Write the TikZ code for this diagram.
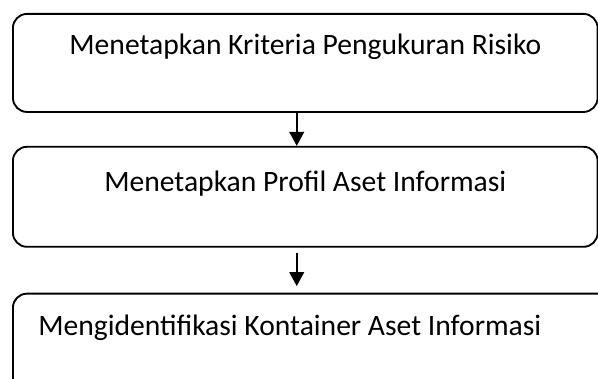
\documentclass[tikz,border=0pt]{standalone}
\usepackage{fontspec}
\setmainfont{Carlito}
\usetikzlibrary{arrows.meta,positioning}
\tikzset{
  box/.style={draw=black,rounded corners=10.5pt,line width=1.4pt,inner sep=0pt,
    minimum width=438.5pt,minimum height=74pt},
  lbl/.style={font=\fontsize{22.2}{26}\selectfont,inner sep=0pt},
  arrow/.style={-{Triangle[width=11pt,length=10.5pt]},draw=black,line width=1.4pt}
}
\begin{document}
\begin{tikzpicture}[x=0.75pt,y=-0.75pt]
      \useasboundingbox (0,0) rectangle (598,378);
      \clip (0,0) rectangle (598,378);
      \node[box,minimum height=73.5pt,anchor=north west] (b1) at (12,13) {};
      \node[box,minimum height=75pt,below=24.75pt of b1] (b2) {};
      \node[box,minimum height=75pt,minimum width=450pt,
        below=33.75pt of b2.south west,anchor=north west] (b3) {};
      \node[lbl,anchor=base] (t1) at ([yshift=-31.5pt]b1.north) {Menetapkan Kriteria Pengukuran Risiko};
      \node[lbl,anchor=base] (t2) at ([yshift=-34.5pt]b2.north) {Menetapkan Profil Aset Informasi};
      \node[lbl,anchor=base west] (t3) at ([xshift=19.5pt,yshift=-32.25pt]b3.north west) {Mengidentifikasi Kontainer Aset Informasi};
      \draw[arrow] ([xshift=-6.4pt]b1.south) -- ([xshift=-6.4pt]b2.north);
      \draw[arrow,shorten <=3.75pt,shorten >=5pt] ([xshift=-6.4pt]b2.south) -- ([xshift=-6.4pt]b3.north -| b2.south);
    \end{tikzpicture}
\end{document}
